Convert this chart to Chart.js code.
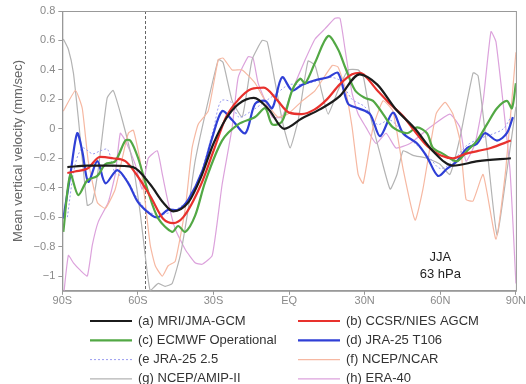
<!DOCTYPE html>
<html>
<head>
<meta charset="utf-8">
<script src="https://cdn.jsdelivr.net/npm/chart.js@4.4.0/dist/chart.umd.min.js"></script>
<style>
  html, body { margin: 0; padding: 0; background: #fff; }
</style>
</head>
<body>
<canvas id="chart" width="526" height="384"></canvas>
<script>
// axis ticks
const xTicks = [-90, -60, -30, 0, 30, 60, 90];
const xTickLabels = ['90S', '60S', '30S', 'EQ', '30N', '60N', '90N'];
const yTicks = [-1, -0.8, -0.6, -0.4, -0.2, 0, 0.2, 0.4, 0.6, 0.8];
const markerLat = -57;

// (a) MRI/JMA-GCM
const mriLat = [-88, -80, -70, -62, -55, -50, -46, -40, -35, -30, -25, -20, -14, -8, -2, 5, 12, 20, 28, 35, 42, 50, 57, 65, 75, 88];
const mriVal = [-0.26, -0.25, -0.25, -0.26, -0.38, -0.5, -0.56, -0.5, -0.33, -0.1, 0.07, 0.17, 0.21, 0.13, 0.0, 0.07, 0.13, 0.22, 0.37, 0.3, 0.14, 0.0, -0.15, -0.25, -0.22, -0.2];

// (b) CCSR/NIES AGCM
const ccsrLat = [-88, -85, -80, -75, -70, -65, -61, -55, -50, -46, -42, -35, -30, -25, -20, -15, -10, -5, 0, 5, 10, 15, 20, 25, 28, 35, 40, 45, 50, 55, 60, 65, 70, 75, 80, 88];
const ccsrVal = [-0.3, -0.29, -0.27, -0.19, -0.2, -0.22, -0.3, -0.46, -0.61, -0.64, -0.6, -0.38, -0.15, 0.08, 0.2, 0.27, 0.28, 0.2, 0.11, 0.1, 0.13, 0.2, 0.3, 0.37, 0.38, 0.26, 0.17, 0.09, -0.02, -0.12, -0.18, -0.2, -0.17, -0.15, -0.13, -0.08];

// (c) ECMWF Operational
const ecmwfLat = [-89.6, -86.8, -83.7, -80.1, -76.1, -72.9, -69, -65, -63, -59.9, -55.9, -51.9, -46.4, -44, -41.2, -37.3, -33.3, -26.6, -20.2, -13.5, -9.5, -6.7, -2.8, 1.2, 4.4, 6.4, 10.3, 15.5, 19.4, 22.2, 26.2, 30.1, 33.3, 37.3, 41.2, 46.8, 50.8, 54.7, 57.1, 61.1, 66.6, 70.6, 74.6, 78.5, 82.5, 86.4, 88.4, 90];
const ecmwfVal = [-0.7, -0.31, -0.45, -0.35, -0.32, -0.24, -0.22, -0.08, -0.08, -0.2, -0.43, -0.61, -0.7, -0.66, -0.7, -0.59, -0.36, -0.08, 0.03, 0.08, 0.14, 0.03, 0.05, 0.26, 0.34, 0.31, 0.45, 0.63, 0.54, 0.42, 0.26, 0.21, 0.19, 0.1, 0.01, -0.03, 0.01, -0.03, -0.13, -0.17, -0.22, -0.15, -0.08, 0.03, 0.14, 0.19, 0.14, 0.31];

// (d) JRA-25 T106
const jraLat = [-89.6, -86.8, -84.1, -82.1, -79.7, -76.1, -72.9, -68.2, -63.8, -59.9, -54.3, -51.9, -48, -44, -40, -34.5, -30.5, -26.6, -22.6, -17.4, -13.5, -9.5, -6.7, -2.8, 1.2, 5.2, 10.3, 15.5, 19.4, 23.4, 27.4, 32.1, 36.1, 41.2, 45.2, 50.8, 54.7, 59.1, 62.7, 66.6, 70.6, 74.6, 77.7, 82.5, 86.4, 88.8];
const jraVal = [-0.61, -0.31, -0.03, -0.15, -0.36, -0.22, -0.37, -0.28, -0.37, -0.5, -0.59, -0.6, -0.55, -0.55, -0.48, -0.29, -0.06, 0.12, 0.06, -0.03, 0.17, 0.19, 0.14, 0.35, 0.26, 0.3, 0.33, 0.35, 0.38, 0.17, 0.14, 0.1, -0.05, 0.11, -0.03, -0.1, -0.19, -0.32, -0.27, -0.22, -0.13, -0.1, -0.03, -0.08, -0.03, 0.08];

// (e) JRA-25 2.5
const jra25Lat = [-88, -85, -82, -78, -75, -72, -69, -65, -60, -55, -50, -45, -40, -35, -30, -27, -23, -20, -15, -10, -5, 0, 5, 10, 15, 20, 25, 30, 35, 40, 45, 50, 55, 60, 65, 70, 75, 80, 85, 88];
const jra25Val = [-0.6, -0.25, -0.13, -0.17, -0.15, -0.14, -0.3, -0.33, -0.48, -0.57, -0.58, -0.55, -0.48, -0.3, 0.0, 0.19, 0.18, 0.08, 0.12, 0.18, 0.24, 0.3, 0.3, 0.32, 0.35, 0.33, 0.2, 0.15, 0.03, 0.06, -0.02, -0.1, -0.18, -0.27, -0.22, -0.12, -0.07, -0.04, 0.0, 0.08];

// (f) NCEP/NCAR
const ncarLat = [-89.6, -84.8, -82.1, -79.7, -76.1, -72.9, -69, -66.2, -63.8, -61.8, -59.1, -57.1, -55.1, -53.1, -50.3, -48, -45.2, -41.2, -38.5, -36.1, -32.1, -28.1, -26.2, -22.6, -18.6, -13.5, -9.5, -4.4, -0.5, 5.2, 10.3, 17.1, 19.4, 22.2, 25, 27.4, 29.4, 33.3, 37.3, 41.2, 45.2, 50, 53.1, 58.3, 61.9, 65, 67.8, 70.2, 73, 77, 82.1, 86, 90];
const ncarVal = [0.12, 0.26, 0.14, -0.22, -0.5, -0.54, -0.41, -0.2, -0.03, -0.01, -0.22, -0.5, -0.79, -0.93, -1.0, -0.93, -0.9, -0.54, -0.13, 0.03, 0.12, 0.47, 0.48, 0.4, 0.4, 0.31, 0.19, 0.08, 0.1, 0.19, 0.26, 0.43, 0.42, 0.28, 0.01, -0.31, -0.37, 0.01, 0.19, 0.12, -0.27, -0.62, -0.41, 0.1, 0.18, 0.1, -0.08, -0.48, -0.49, -0.31, -0.75, -0.27, 0.52];

// (g) NCEP/AMIP-II
const amipLat = [-89.6, -87.6, -85.6, -83.7, -80.1, -78.1, -75.7, -72.2, -69.8, -66.2, -62.2, -59.1, -57.1, -55.1, -51.9, -49.2, -46.4, -43.2, -40, -37.3, -33.3, -28.1, -26.2, -22.6, -18.6, -14.7, -10.7, -8.7, -5.5, -2.4, 0.4, 3.6, 7.5, 10.3, 13.1, 15.5, 19.4, 23.4, 27.4, 29.5, 32.1, 36.1, 40.1, 42.8, 45.2, 49.2, 54.7, 59.9, 63.8, 67.8, 73, 75, 78.5, 82.5, 86.4, 90];
const amipVal = [0.61, 0.54, 0.38, 0.08, -0.52, -0.5, -0.27, 0.21, 0.26, 0.06, -0.22, -0.57, -0.86, -1.1, -1.05, -1.07, -1.05, -0.86, -0.54, -0.22, 0.1, 0.47, 0.45, 0.19, 0.08, 0.47, 0.6, 0.59, 0.31, 0.03, -0.13, 0.06, 0.46, 0.43, 0.24, 0.1, 0.26, 0.4, 0.4, 0.35, 0.1, -0.17, -0.41, -0.31, -0.15, -0.18, -0.2, -0.24, -0.31, -0.06, 0.38, 0.36, -0.13, -0.72, -0.29, 0.15];

// (h) ERA-40
const eraLat = [-89.6, -87.6, -85.6, -82.9, -80.1, -78.1, -75.7, -71.8, -69, -67, -65, -61.1, -58.3, -55.9, -52.3, -50.3, -48, -45.2, -41.2, -37.3, -34.5, -30.5, -26.6, -22.6, -20.2, -16.2, -14.3, -12.3, -9.5, -6.7, -2.8, 1.2, 6.4, 10.3, 14.3, 18.2, 20.2, 22.2, 25, 27.4, 30.5, 34.5, 38.5, 42.4, 48, 55.9, 63.8, 67.8, 70.2, 73.8, 77, 80.1, 82.1, 87.6, 90];
const eraVal = [-1.15, -0.86, -0.91, -0.96, -1.0, -0.79, -0.63, -0.5, -0.31, -0.03, -0.08, -0.24, -0.41, -0.2, -0.15, -0.31, -0.5, -0.68, -0.82, -0.91, -0.92, -0.86, -0.38, 0.01, 0.35, 0.49, 0.48, 0.31, 0.19, 0.08, 0.08, 0.26, 0.47, 0.61, 0.68, 0.75, 0.75, 0.54, 0.24, 0.1, 0.01, -0.1, -0.03, -0.13, -0.1, 0.01, 0.1, 0.01, -0.22, -0.1, 0.19, 0.66, 0.59, -0.27, -1.05];

const noteLat = 60;
const noteText = ['JJA', '63 hPa'];

function pts(lats, vals) {
    return lats.map((x, i) => ({ x: x, y: vals[i] }));
}

// vertical dashed line, frame, note and two-column legend
const extras = {
    id: 'extras',
    beforeDatasetsDraw(chart) {
        const ctx = chart.ctx, a = chart.chartArea;
        const x = chart.scales.x.getPixelForValue(markerLat);
        ctx.save();
        ctx.strokeStyle = '#666';
        ctx.lineWidth = 1;
        ctx.setLineDash([3, 2]);
        ctx.beginPath();
        ctx.moveTo(Math.round(x) + 0.5, a.top);
        ctx.lineTo(Math.round(x) + 0.5, a.bottom);
        ctx.stroke();
        ctx.restore();
    },
    afterDraw(chart) {
        const ctx = chart.ctx, a = chart.chartArea;
        ctx.save();
        ctx.strokeStyle = '#999';
        ctx.lineWidth = 1;
        ctx.strokeRect(a.left + 0.5, a.top + 0.5, a.right - a.left, a.bottom - a.top);

        ctx.fillStyle = '#222';
        ctx.font = '13px "Liberation Sans", Arial, sans-serif';
        ctx.textAlign = 'center';
        const nx = chart.scales.x.getPixelForValue(noteLat);
        ctx.fillText(noteText[0], nx, a.bottom - 30);
        ctx.fillText(noteText[1], nx, a.bottom - 13);

        // legend
        ctx.textAlign = 'left';
        ctx.textBaseline = 'middle';
        ctx.font = '13px "Liberation Sans", Arial, sans-serif';
        chart.data.datasets.forEach((ds, i) => {
            const col = i % 2, row = Math.floor(i / 2);
            const x0 = col === 0 ? 90 : 298;
            const y0 = 321 + row * 19.3;
            ctx.strokeStyle = ds.borderColor;
            ctx.lineWidth = ds.borderWidth;
            ctx.setLineDash(ds.borderDash || []);
            ctx.beginPath();
            ctx.moveTo(x0, y0);
            ctx.lineTo(x0 + 42, y0);
            ctx.stroke();
            ctx.setLineDash([]);
            ctx.fillStyle = '#333';
            ctx.fillText(ds.label, x0 + 48, y0);
        });
        ctx.restore();
    }
};

const bold = 2.2;
new Chart(document.getElementById('chart'), {
    type: 'line',
    data: {
        datasets: [
            { label: '(a) MRI/JMA-GCM', data: pts(mriLat, mriVal), borderColor: '#1b1b1b', borderWidth: bold, cubicInterpolationMode: 'monotone' },
            { label: '(b) CCSR/NIES AGCM', data: pts(ccsrLat, ccsrVal), borderColor: '#e8312d', borderWidth: bold, cubicInterpolationMode: 'monotone' },
            { label: '(c) ECMWF Operational', data: pts(ecmwfLat, ecmwfVal), borderColor: '#52a844', borderWidth: bold, tension: 0.3 },
            { label: '(d) JRA-25 T106', data: pts(jraLat, jraVal), borderColor: '#2f3fd6', borderWidth: bold, tension: 0.3 },
            { label: '(e JRA-25 2.5', data: pts(jra25Lat, jra25Val), borderColor: '#9a9cf0', borderWidth: 1, borderDash: [2, 2], tension: 0.3 },
            { label: '(f) NCEP/NCAR', data: pts(ncarLat, ncarVal), borderColor: '#f6b8a2', borderWidth: 1.2, tension: 0.15 },
            { label: '(g) NCEP/AMIP-II', data: pts(amipLat, amipVal), borderColor: '#b3b3b3', borderWidth: 1.2, tension: 0.15 },
            { label: '(h) ERA-40', data: pts(eraLat, eraVal), borderColor: '#dca2dc', borderWidth: 1.2, tension: 0.15 }
        ]
    },
    options: {
        responsive: false,
        animation: false,
        layout: { padding: { left: 11, right: 0, top: 11, bottom: 76 } },
        elements: { point: { radius: 0 } },
        plugins: { legend: { display: false }, tooltip: { enabled: false } },
        scales: {
            x: {
                type: 'linear',
                min: -90,
                max: 90,
                afterBuildTicks: s => { s.ticks = xTicks.map(v => ({ value: v })); },
                ticks: {
                    color: '#8a8a8a',
                    font: { size: 11, family: '"Liberation Sans", Arial, sans-serif' },
                    padding: 0,
                    maxRotation: 0,
                    callback: v => xTickLabels[xTicks.indexOf(v)]
                },
                grid: { drawOnChartArea: false, tickLength: 4, color: '#999' },
                border: { color: '#999' }
            },
            y: {
                min: -1.1,
                max: 0.8,
                afterBuildTicks: s => { s.ticks = yTicks.map(v => ({ value: v })); },
                ticks: {
                    color: '#8a8a8a',
                    font: { size: 11, family: '"Liberation Sans", Arial, sans-serif' },
                    padding: 3,
                    callback: v => (v === 0 ? '0' : (v === -1 ? '\u22121' : (v < 0 ? '\u2212' + Math.abs(v).toFixed(1) : v.toFixed(1))))
                },
                grid: { drawOnChartArea: false, tickLength: 4, color: '#999' },
                border: { color: '#999' },
                title: {
                    display: true,
                    text: 'Mean vertical velocity (mm/sec)',
                    color: '#666',
                    font: { size: 13, family: '"Liberation Sans", Arial, sans-serif' },
                    padding: { top: 0, bottom: 4 }
                }
            }
        }
    },
    plugins: [extras]
});
</script>
</body>
</html>
